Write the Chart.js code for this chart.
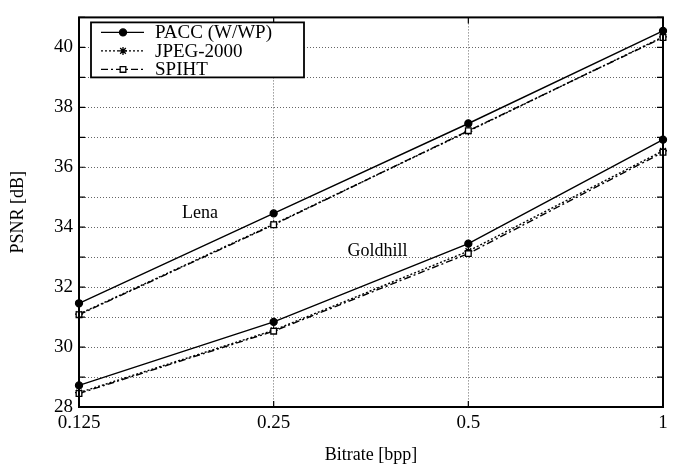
<!DOCTYPE html>
<html>
<head>
<meta charset="utf-8">
<script src="https://cdn.jsdelivr.net/npm/chart.js@4.4.1/dist/chart.umd.min.js"></script>
<style>
  html, body { margin: 0; padding: 0; background: #fff; }
  #wrap { width: 674px; height: 470px; }
</style>
</head>
<body>
<div id="wrap"><canvas id="chart"></canvas></div>
<script>
  "use strict";

  // values
  const bitrates = ["0.125", "0.25", "0.5", "1"];
  const lenaPacc = [31.46, 34.46, 37.46, 40.55];
  const lenaJpeg = [31.10, 34.10, 37.20, 40.35];
  const lenaSpiht = [31.08, 34.08, 37.22, 40.33];
  const goldPacc = [28.72, 30.84, 33.45, 36.92];
  const goldJpeg = [28.48, 30.56, 33.20, 36.55];
  const goldSpiht = [28.45, 30.53, 33.12, 36.50];
  const yLabels = [28, 30, 32, 34, 36, 38, 40];
  const curveNotes = [
    { text: "Lena", x: 0.207, y: 34.46 },
    { text: "Goldhill", x: 0.511, y: 33.2 },
  ];

  const FONT = '"Liberation Serif", "Times New Roman", serif';

  const styles = {
    pacc: { name: "PACC (W/WP)", dash: [], point: "circle", bg: "#000", r: 3.5 },
    jpeg: { name: "JPEG-2000", dash: [2, 2], point: "star", bg: "#000", r: 4 },
    spiht: { name: "SPIHT", dash: [7, 3, 2, 3], point: "rect", bg: "#fff", r: 4 },
  };

  function ds(data, key, legend) {
    const s = styles[key];
    return {
      label: s.name,
      data,
      showInLegend: legend,
      borderColor: "#000",
      borderWidth: 1.4,
      borderDash: s.dash,
      pointStyle: s.point,
      pointRadius: s.r,
      pointBackgroundColor: s.bg,
      pointBorderColor: "#000",
      pointBorderWidth: 1.3,
      tension: 0,
      fill: false,
    };
  }

  const framePlugin = {
    id: "frame",
    afterDraw(chart) {
      const { ctx, chartArea: a, scales } = chart;
      ctx.save();
      ctx.strokeStyle = "#000";
      ctx.lineWidth = 1.2;
      ctx.setLineDash([]);
      // inward tick marks
      scales.y.ticks.forEach((t) => {
        const y = scales.y.getPixelForValue(t.value);
        ctx.beginPath();
        ctx.moveTo(a.left, y); ctx.lineTo(a.left + 6, y);
        ctx.moveTo(a.right, y); ctx.lineTo(a.right - 6, y);
        ctx.stroke();
      });
      bitrates.forEach((b, i) => {
        const x = scales.x.getPixelForValue(i);
        ctx.beginPath();
        ctx.moveTo(x, a.bottom); ctx.lineTo(x, a.bottom - 6);
        ctx.moveTo(x, a.top); ctx.lineTo(x, a.top + 6);
        ctx.stroke();
      });
      ctx.lineWidth = 2;
      ctx.strokeRect(a.left, a.top, a.right - a.left, a.bottom - a.top);

      // curve names
      ctx.fillStyle = "#000";
      ctx.font = "18px " + FONT;
      ctx.textAlign = "center";
      ctx.textBaseline = "middle";
      curveNotes.forEach((n) => {
        ctx.fillText(n.text, scales.x.getPixelForDecimal(n.x), scales.y.getPixelForValue(n.y));
      });

      // legend box
      const items = chart.data.datasets.filter((d) => d.showInLegend);
      const bx = a.left + 12, by = a.top + 5, bw = 213, bh = 55, row = 18.5;
      ctx.fillStyle = "#fff";
      ctx.fillRect(bx, by, bw, bh);
      ctx.lineWidth = 1.8;
      ctx.strokeRect(bx, by, bw, bh);
      items.forEach((d, i) => {
        const y = by + 10 + i * row;
        ctx.strokeStyle = "#000";
        ctx.lineWidth = d.borderWidth;
        ctx.setLineDash(d.borderDash);
        ctx.beginPath();
        ctx.moveTo(bx + 10, y); ctx.lineTo(bx + 53, y);
        ctx.stroke();
        ctx.setLineDash([]);
        ctx.fillStyle = d.pointBackgroundColor;
        ctx.lineWidth = d.pointBorderWidth;
        Chart.helpers.drawPoint(ctx, { pointStyle: d.pointStyle, radius: d.pointRadius, borderWidth: d.pointBorderWidth, rotation: 0 }, bx + 32, y);
        ctx.fillStyle = "#000";
        ctx.font = "19px " + FONT;
        ctx.textAlign = "left";
        ctx.fillText(d.label, bx + 64, y + 1);
      });
      ctx.restore();
    },
  };

  const gridStyle = { color: "#666", lineWidth: 1, drawTicks: false };

  new Chart(document.getElementById("chart"), {
    type: "line",
    data: {
      labels: bitrates,
      datasets: [
        ds(lenaSpiht, "spiht", false),
        ds(lenaJpeg, "jpeg", false),
        ds(lenaPacc, "pacc", false),
        ds(goldSpiht, "spiht", false),
        ds(goldJpeg, "jpeg", false),
        ds(goldPacc, "pacc", false),
        // legend entries only
        ds([], "pacc", true),
        ds([], "jpeg", true),
        ds([], "spiht", true),
      ],
    },
    options: {
      responsive: true,
      maintainAspectRatio: false,
      animation: false,
      layout: { padding: { top: 7, right: 11, left: 0, bottom: 0 } },
      plugins: { legend: { display: false }, tooltip: { enabled: false } },
      scales: {
        x: {
          type: "category",
          offset: false,
          afterFit: (s) => { s.height = 63; },
          border: { display: false, dash: [1, 2] },
          grid: gridStyle,
          ticks: { color: "#000", font: { family: FONT, size: 19 }, padding: 5, maxRotation: 0 },
          title: { display: true, text: "Bitrate [bpp]", color: "#000", font: { family: FONT, size: 18 }, padding: { top: 0, bottom: 4 } },
        },
        y: {
          min: 28,
          max: 41,
          afterFit: (s) => { s.width = 79; },
          border: { display: false, dash: [1, 2] },
          grid: gridStyle,
          ticks: {
            stepSize: 1,
            color: "#000",
            font: { family: FONT, size: 19 },
            padding: 6,
            callback: (v) => (yLabels.includes(v) ? String(v) : ""),
          },
          title: { display: true, text: "PSNR [dB]", color: "#000", font: { family: FONT, size: 18 }, padding: { top: 7, bottom: 0 } },
        },
      },
    },
    plugins: [framePlugin],
  });
</script>
</body>
</html>
